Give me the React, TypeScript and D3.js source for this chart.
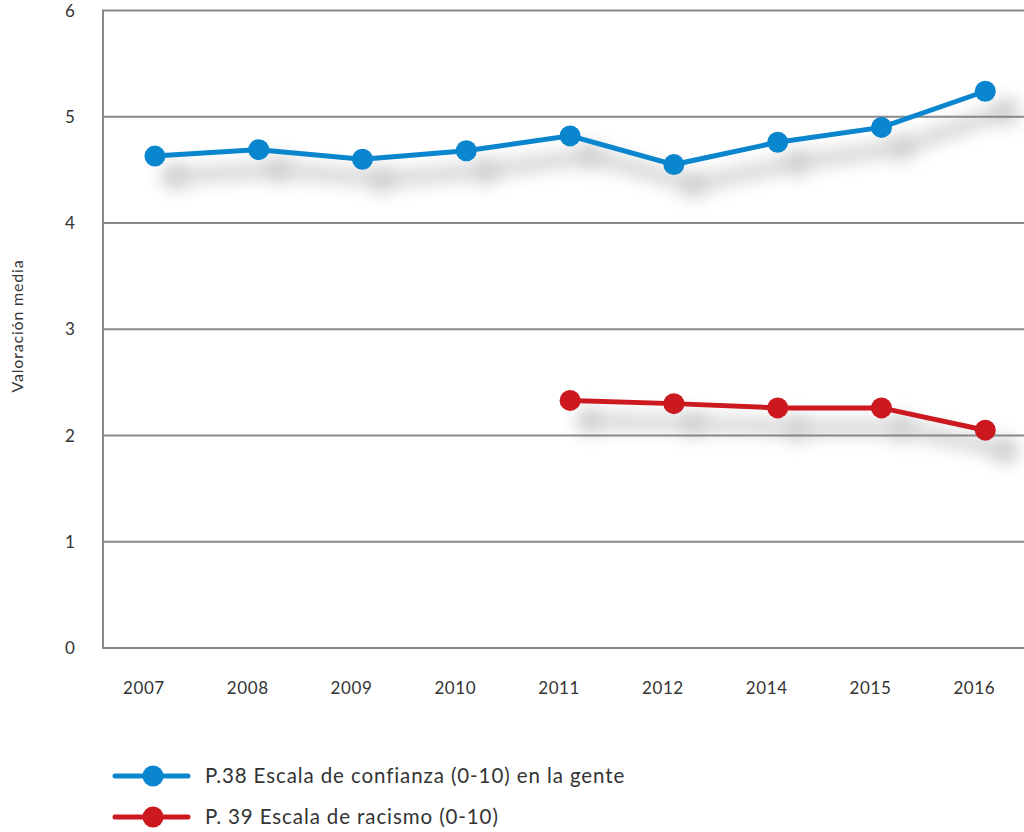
import React from "react";
import * as d3 from "d3";

const years = ["2007", "2008", "2009", "2010", "2011", "2012", "2014", "2015", "2016"];
const confianza = [4.63, 4.69, 4.6, 4.68, 4.82, 4.55, 4.76, 4.9, 5.24];
const racismoYears = ["2011", "2012", "2014", "2015", "2016"];
const racismo = [2.33, 2.3, 2.26, 2.26, 2.05];
const yTicks = [0, 1, 2, 3, 4, 5, 6];
const seriesNames = ["P.38 Escala de confianza (0-10) en la gente", "P. 39 Escala de racismo (0-10)"];
const colors = ["#0a86cf", "#cc1920"];

export default function App() {
  const W = 1024, H = 832;
  const left = 103, top = 10.5, bottom = 648;
  const step = 103.8;
  const x = d3.scaleBand<string>().domain(years).range([left, left + 9 * step]);
  const y = d3.scaleLinear().domain([0, 6]).range([bottom, top]);
  const cx = (yr: string) => (x(yr) as number) + x.bandwidth() / 2;
  const blue = years.map((yr, i) => ({ x: cx(yr), y: y(confianza[i]) }));
  const red = racismoYears.map((yr, i) => ({ x: cx(yr), y: y(racismo[i]) }));
  const line = d3.line<{ x: number; y: number }>().x(d => d.x).y(d => d.y);
  const font = "Lato, 'Open Sans', sans-serif";
  const series = [blue, red];

  return (
    <svg width={W} height={H} style={{ position: "absolute", left: 0, top: 0 }} fontFamily={font}>
      <defs>
        <filter id="sh" x="-20%" y="-50%" width="140%" height="200%">
          <feGaussianBlur stdDeviation="9" />
        </filter>
      </defs>
      {yTicks.map(t => (
        <line key={t} x1={left} x2={W} y1={y(t)} y2={y(t)} stroke="#8a8a8e" strokeWidth={2} />
      ))}
      <line x1={left} x2={left} y1={top - 1} y2={bottom + 1} stroke="#8a8a8e" strokeWidth={2} />
      {yTicks.map(t => (
        <text key={t} x={70} y={y(t) + 6} fontSize={17} fill="#333" textAnchor="middle">{t}</text>
      ))}
      {years.map(yr => (
        <text key={yr} x={cx(yr) - 11} y={694} fontSize={17} letterSpacing={0.6} fill="#333" textAnchor="middle">{yr}</text>
      ))}
      <text transform={`translate(23,${326}) rotate(-90)`} fontSize={16} letterSpacing={0.8} fill="#333" textAnchor="middle">Valoración media</text>
      <g filter="url(#sh)" opacity={0.4} transform="translate(20,20)">
        {series.map((s, i) => (
          <g key={i}>
            <path d={line(s) as string} fill="none" stroke="#777" strokeWidth={12} />
            {s.map((p, j) => <circle key={j} cx={p.x} cy={p.y} r={13} fill="#777" />)}
          </g>
        ))}
      </g>
      {series.map((s, i) => (
        <g key={i}>
          <path d={line(s) as string} fill="none" stroke={colors[i]} strokeWidth={5} />
          {s.map((p, j) => <circle key={j} cx={p.x} cy={p.y} r={10.5} fill={colors[i]} />)}
        </g>
      ))}
      {seriesNames.map((n, i) => {
        const ly = 776 + i * 41;
        return (
          <g key={n}>
            <line x1={115} x2={188} y1={ly} y2={ly} stroke={colors[i]} strokeWidth={5} strokeLinecap="round" />
            <circle cx={153} cy={ly} r={10.5} fill={colors[i]} />
            <text x={205} y={ly + 7} fontSize={20.5} letterSpacing={0.9} fill="#333">{n}</text>
          </g>
        );
      })}
    </svg>
  );
}
